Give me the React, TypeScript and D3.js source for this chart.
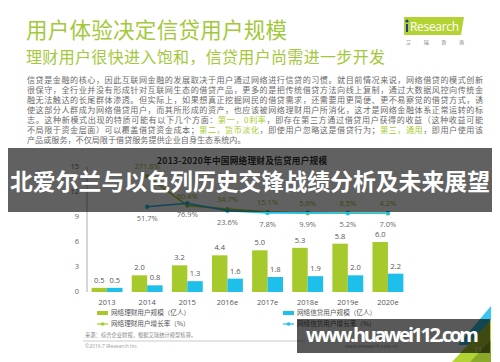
import React from 'react'
import * as d3 from 'd3'

const years = ['2013', '2014', '2015', '2016e', '2017e', '2018e', '2019e', '2020e']
const wealthUsers = [0.5, 2.0, 3.2, 4.4, 5.0, 5.3, 5.8, 6.0]
const loanUsers = [0.5, 0.8, 1.3, 1.6, 1.8, 1.9, 2.0, 2.2]
const wealthGrowth = [null, 271.8, 60.4, 34.7, 15.1, 5.6, 8.5, 4.2]
const loanGrowth = [null, 51.7, 76.9, 23.6, 7.8, 9.9, 5.2, 7.0]
const yTicks = [0, 3, 6, 9, 12, 15]
const legendLeft = ['网络理财用户规模（亿人）', '网络理财用户增长率（%）']
const legendRight = ['网络信贷用户规模（亿人）', '网络信贷用户增长率（%）']

const LIME = '#a6c92b'
const CYAN = '#1fbfeb'
const CJK = '"Noto Sans CJK SC", "Noto Sans", sans-serif'
const NUM = '"Open Sans", "Noto Sans", sans-serif'

// paragraph lines, [text, green?] pieces
const para = [
	[['信贷是金融的核心，因此互联网金融的发展取决于用户通过网络进行信贷的习惯。就目前情况来说，网络借贷的模式创新', false]],
	[['很保守，全行业并没有形成针对互联网生态的借贷产品，更多的是把传统借贷方法向线上复制，通过大数据风控向传统金', false]],
	[['融无法触达的长尾群体渗透。但实际上，如果想真正挖掘网民的借贷需求，还需要用更简便、更不易察觉的借贷方式，诱', false]],
	[['使这部分人群成为网络借贷用户，而其所形成的资产，也应该被网络理财用户所消化，这才是网络金融体系正常运转的标', false]],
	[
		['志。这种新模式出现的特质可能有以下几个方面：', false],
		['第一，0利率', true],
		['，即存在第三方通过借贷用户获得的收益（这种收益可能', false],
	],
	[
		['不局限于资金层面）可以覆盖借贷资金成本；', false],
		['第二，货币淡化', true],
		['，即使用户忽略这是借贷行为；', false],
		['第三，通用', true],
		['，即用户使用该', false],
	],
	[['产品或服务，不仅局限于借贷服务提供企业自身生态系统内。', false]],
]

export default function App() {
	const x = d3.scaleBand().domain(years).range([87, 408]).paddingInner(0.23).paddingOuter(0.115)
	const sub = d3.scaleBand().domain(['w', 'l']).range([0, x.bandwidth()])
	const y = d3.scaleLinear().domain([0, 15]).range([292, 167])
	const rateY = d3.scaleLinear().domain([0, 280]).range([214, 175])
	const cx = (i) => x(years[i]) + x.bandwidth() / 2

	const line = d3
		.line()
		.defined((d) => d != null)
		.x((d, i) => cx(i))
		.y((d) => rateY(d))

	return (
		<svg width={500} height={362} style={{ position: 'fixed', left: 0, top: 0, background: '#fff' }}>
			<rect width={500} height={362} fill="#fff" />

			{/* header */}
			<text x={26} y={32} fontFamily={CJK} fontSize={21.5} fill="#a3c83c" dominantBaseline="middle" textLength={261}>
				用户体验决定信贷用户规模
			</text>
			<text x={26} y={59} fontFamily={CJK} fontSize={16} fill="#a3c83c" dominantBaseline="middle" textLength={359}>
				理财用户很快进入饱和，信贷用户尚需进一步开发
			</text>
			<polygon points="404,17 464,17 461,35 404,35" fill="#b3d334" />
			<circle cx={407} cy={21} r={1.6} fill="#1f3f8f" />
			<rect x={406} y={24} width={2} height={8} fill="#1f3f8f" />
			<text x={410} y={28} fontFamily={NUM} fontSize={12} fill="#fff" dominantBaseline="middle" textLength={49}>
				Research
			</text>
			<text x={406} y={43} fontFamily={CJK} fontSize={5} fill="#777" dominantBaseline="middle" textLength={58}>
				艾 瑞 咨 询
			</text>

			{/* paragraph */}
			{para.map((pieces, i) => (
				<text
					key={i}
					x={27}
					y={80.5 + i * 10}
					fontFamily={CJK}
					fontSize={8.1}
					fill="#6a6a6a"
					dominantBaseline="middle"
					textLength={i < 6 ? 456 : undefined}
					lengthAdjust="spacing"
				>
					{pieces.map(([t, g], j) => (
						<tspan key={j} fill={g ? '#a6cc2e' : undefined}>
							{t}
						</tspan>
					))}
				</text>
			))}

			{/* chart */}
			<text x={157} y={161.5} fontFamily={CJK} fontSize={8.6} fontWeight="bold" fill="#333" dominantBaseline="middle" textLength={170}>
				2013-2020年中国网络理财及信贷用户规模
			</text>
			<line x1={87} x2={87} y1={167} y2={292} stroke="#999" strokeWidth={0.8} />
			{yTicks.map((t) => (
				<text key={t} x={79} y={y(t)} textAnchor="end" dominantBaseline="middle" fontFamily={NUM} fontSize={7.5} fill="#666">
					{t}
				</text>
			))}
			{years.map((yr, i) => (
				<g key={yr}>
					<rect x={x(yr)} y={y(wealthUsers[i])} width={sub.bandwidth()} height={y(0) - y(wealthUsers[i])} fill={LIME} />
					<rect x={x(yr) + sub('l')} y={y(loanUsers[i])} width={sub.bandwidth()} height={y(0) - y(loanUsers[i])} fill={CYAN} />
					<text x={x(yr) + sub.bandwidth() / 2} y={y(wealthUsers[i]) - 7} textAnchor="middle" dominantBaseline="middle" fontFamily={NUM} fontSize={7.5} fill="#555">
						{wealthUsers[i].toFixed(1)}
					</text>
					<text x={x(yr) + sub('l') + sub.bandwidth() / 2} y={y(loanUsers[i]) - 7} textAnchor="middle" dominantBaseline="middle" fontFamily={NUM} fontSize={7.5} fill="#555">
						{loanUsers[i].toFixed(1)}
					</text>
					<text x={cx(i)} y={303} textAnchor="middle" dominantBaseline="middle" fontFamily={NUM} fontSize={7.5} fill="#555">
						{yr}
					</text>
				</g>
			))}
			<path d={line(wealthGrowth)} fill="none" stroke={LIME} strokeWidth={1.6} />
			<path d={line(loanGrowth)} fill="none" stroke={CYAN} strokeWidth={1.6} />
			{wealthGrowth.map((v, i) =>
				v == null ? null : (
					<g key={'w' + i}>
						<circle cx={cx(i)} cy={rateY(v)} r={2.2} fill={LIME} />
						<text x={cx(i)} y={rateY(v) - 9} textAnchor="middle" dominantBaseline="middle" fontFamily={NUM} fontSize={7.5} fill="#98b82a">
							{v.toFixed(1)}%
						</text>
					</g>
				)
			)}
			{loanGrowth.map((v, i) =>
				v == null ? null : (
					<g key={'l' + i}>
						<circle cx={cx(i)} cy={rateY(v)} r={2.2} fill={CYAN} />
						<text x={cx(i)} y={rateY(v) + 12} textAnchor="middle" dominantBaseline="middle" fontFamily={NUM} fontSize={7.5} fill="#666">
							{v.toFixed(1)}%
						</text>
					</g>
				)
			)}

			{/* legend */}
			{[legendLeft, legendRight].map((items, k) => {
				const lx = k === 0 ? 97 : 283
				const c = k === 0 ? LIME : CYAN
				return (
					<g key={k}>
						<rect x={lx} y={311} width={11} height={4} fill={c} />
						<line x1={lx} x2={lx + 11} y1={324} y2={324} stroke={c} strokeWidth={1.2} />
						<circle cx={lx + 5.5} cy={324} r={1.8} fill={c} />
						{items.map((t, j) => (
							<text key={j} x={lx + 14} y={313 + j * 11} dominantBaseline="middle" fontFamily={CJK} fontSize={6.6} fill="#555">
								{t}
							</text>
						))}
					</g>
				)
			})}

			{/* footer */}
			<text x={85} y={336} dominantBaseline="middle" fontFamily={CJK} fontSize={5.3} fill="#888">
				来源：综合企业财报，根据艾瑞统计模型核算。
			</text>
			<line x1={83} x2={305} y1={341} y2={341} stroke="#aaa" strokeWidth={0.6} />
			<text x={85} y={347} dominantBaseline="middle" fontFamily={NUM} fontSize={5} fill="#999">
				©2016.7 iResearch Inc.
			</text>
			<text x={345} y={347} dominantBaseline="middle" fontFamily={NUM} fontSize={5} fill="#999">
				www.iresearch.com.cn
			</text>
			<polygon points="491,306 491,345 458,345" fill="#38c6ee" />
			<polygon points="491,320 491,362 452,362" fill="#b3d334" />
			<polygon points="491,340 491,362 470,362" fill="#8aa82a" />
			<text x={478} y={350} textAnchor="middle" dominantBaseline="middle" fontFamily={NUM} fontSize={7} fill="#fff">
				11
			</text>

			{/* overlays */}
			<rect x={8} y={148} width={484} height={64} fill="rgba(0,0,0,0.62)" />
			<text x={10} y={184} dominantBaseline="middle" fontFamily={CJK} fontWeight="bold" fontSize={22.8} fill="#fff" textLength={480}>
				北爱尔兰与以色列历史交锋战绩分析及未来展望
			</text>
			<rect x={297} y={319} width={193} height={34} fill="rgba(0,0,0,0.65)" />
			<text x={306} y={337} dominantBaseline="middle" fontFamily={NUM} fontWeight="bold" fontSize={20} fill="#fff" textLength={173}>
				www.huawei112.com
			</text>
		</svg>
	)
}
